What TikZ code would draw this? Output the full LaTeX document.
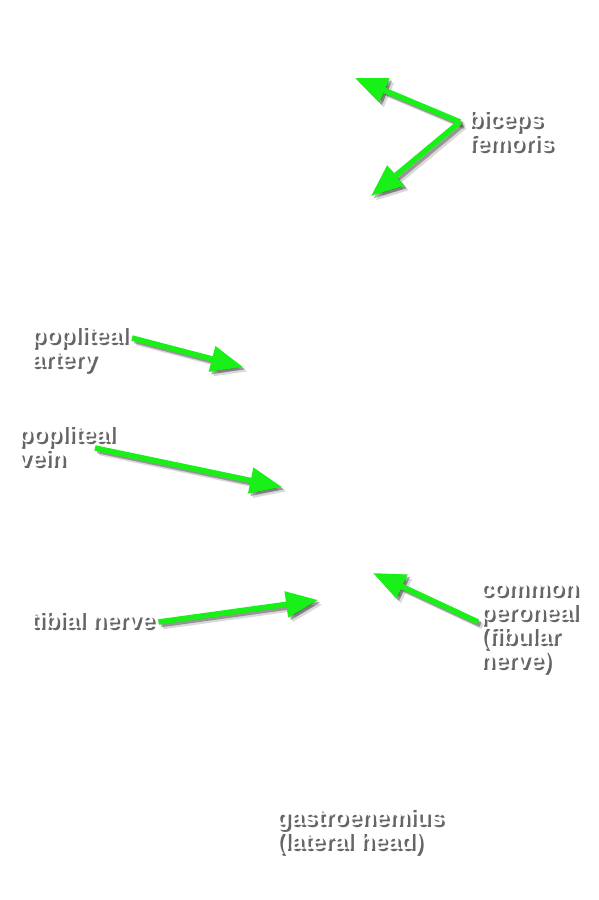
\documentclass[tikz,border=0pt]{standalone}
\usepackage{fontspec}
\setmainfont{Liberation Sans}
\usetikzlibrary{arrows.meta}

\definecolor{arrowgreen}{RGB}{24,240,24}

\tikzset{
  lbl/.style={anchor=base west, inner sep=0pt, align=left, text=white,
    font=\bfseries\fontsize{23.5}{24}\selectfont},
  lblshadow/.style={lbl, text=black, opacity=#1},
  pointer/.style={draw=arrowgreen, line width=5.5pt,
    -{Triangle[length=32pt,width=25pt]}, fill=arrowgreen},
  pointershadow/.style={pointer, draw=black, fill=black, opacity=#1},
}

% label with its drop shadow (base = last line)
\newcommand{\shadowlabel}[3]{%
  \node[lblshadow=0.6] at ([shift={(2.5,2.5)}]#2) {#3};
  \node[lbl] (#1) at (#2) {#3};
}
% green arrow with its drop shadow
\newcommand{\pointto}[2]{%
  \draw[pointershadow=0.15] ([shift={(4.5,4.5)}]#1) -- ([shift={(4.5,4.5)}]#2);
  \draw[pointershadow=0.3] ([shift={(2.5,2.5)}]#1) -- ([shift={(2.5,2.5)}]#2);
  \draw[pointer] (#1) -- (#2);
}

\begin{document}
\begin{tikzpicture}[x=1pt, y=-1pt]
  \fill[white] (0,0) rectangle (598,900);
  \useasboundingbox (0,0) rectangle (598,900);

  % arrow tips
  \coordinate (bicepsup) at (355,78);
  \coordinate (bicepsdown) at (371,196);
  \coordinate (arterytip) at (243,367);
  \coordinate (veintip) at (282,487);
  \coordinate (tibialtip) at (318,600);
  \coordinate (peronealtip) at (373,573);

  % labels
  \shadowlabel{biceps}{468,151}{biceps\\femoris}
  \shadowlabel{artery}{31,367}{popliteal\\artery}
  \shadowlabel{vein}{18,466}{popliteal\\vein}
  \shadowlabel{tibial}{30,628}{tibial nerve}
  \shadowlabel{peroneal}{480,668}{common\\peroneal\\(fibular\\nerve)}
  \shadowlabel{gastro}{276,849}{gastroenemius\\(lateral head)}

  % arrow tails, next to their labels
  \coordinate (bicepsfoot) at ([shift={(-8,-29)}]biceps.base west);
  \coordinate (arteryfoot) at ([shift={(4,-29)}]artery.base east);
  \coordinate (veinfoot) at ([shift={(77,-18)}]vein.base west);
  \coordinate (tibialfoot) at ([shift={(4,-6)}]tibial.base east);
  \coordinate (peronealfoot) at ([shift={(-2,-46)}]peroneal.base west);

  % arrows
  \pointto{bicepsfoot}{bicepsup}
  \pointto{bicepsfoot}{bicepsdown}
  \pointto{arteryfoot}{arterytip}
  \pointto{veinfoot}{veintip}
  \pointto{tibialfoot}{tibialtip}
  \pointto{peronealfoot}{peronealtip}
\end{tikzpicture}
\end{document}
